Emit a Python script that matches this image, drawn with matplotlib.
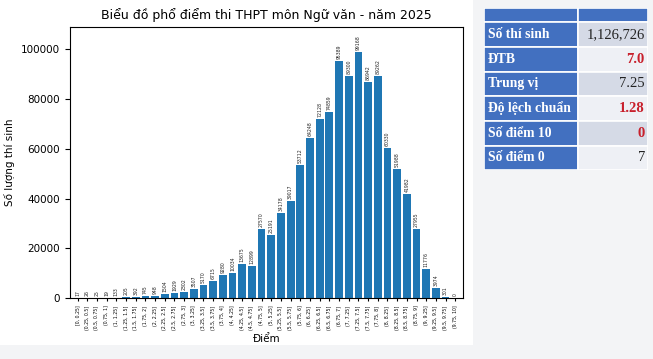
import matplotlib.pyplot as plt
from matplotlib.patches import Rectangle

# === Données ===
bins = ["[0, 0.25]", "(0.25, 0.5]", "(0.5, 0.75]", "(0.75, 1]",
        "(1, 1.25]", "(1.25, 1.5]", "(1.5, 1.75]", "(1.75, 2]",
        "(2, 2.25]", "(2.25, 2.5]", "(2.5, 2.75]", "(2.75, 3]",
        "(3, 3.25]", "(3.25, 3.5]", "(3.5, 3.75]", "(3.75, 4]",
        "(4, 4.25]", "(4.25, 4.5]", "(4.5, 4.75]", "(4.75, 5]",
        "(5, 5.25]", "(5.25, 5.5]", "(5.5, 5.75]", "(5.75, 6]",
        "(6, 6.25]", "(6.25, 6.5]", "(6.5, 6.75]", "(6.75, 7]",
        "(7, 7.25]", "(7.25, 7.5]", "(7.5, 7.75]", "(7.75, 8]",
        "(8, 8.25]", "(8.25, 8.5]", "(8.5, 8.75]", "(8.75, 9]",
        "(9, 9.25]", "(9.25, 9.5]", "(9.5, 9.75]", "(9.75, 10]"]
counts = [17, 26, 25, 19, 133, 205, 392, 745, 948, 1504,
          1929, 2302, 3507, 5170, 6715, 9280, 10034, 13675, 12899, 27570,
          25191, 34178, 39017, 53712, 64248, 72128, 74859, 95389, 89300, 99168,
          86942, 89262, 60330, 51988, 41982, 27955, 11776, 3974, 301, 0]

stat_names = ["Số thí sinh", "ĐTB", "Trung vị", "Độ lệch chuẩn", "Số điểm 10", "Số điểm 0"]
stat_values = ["1,126,726", "7.0", "7.25", "1.28", "0", "7"]
stat_red = [False, True, False, True, True, False]

# === Figure ===
fig = plt.figure(figsize=(6.53, 3.59), dpi=100, facecolor="#f3f4f6")
fig.patches.append(Rectangle((0, 0.04), 0.725, 0.96, transform=fig.transFigure,
                             facecolor="white", edgecolor="none", zorder=-10))

ax = fig.add_axes([0.107, 0.170, 0.602, 0.755])
x = range(len(bins))
bars = ax.bar(x, counts, width=0.8, color="#1f77b4")
for xi, v in zip(x, counts):
    ax.text(xi, v + 800, str(v), rotation=90, ha="center", va="bottom",
            fontsize=3.3, color="#222222")
ax.set_xticks(list(x))
ax.set_xticklabels(bins, rotation=90, fontsize=3.3)
ax.tick_params(axis="y", labelsize=7.5)
ax.tick_params(axis="x", length=2)
ax.set_xlim(-0.8, len(bins) - 0.2)
ax.set_ylim(0, max(counts) * 1.1)
ax.set_title("Biểu đồ phổ điểm thi THPT môn Ngữ văn - năm 2025", fontsize=9)
ax.set_xlabel("Điểm", fontsize=7.5, labelpad=3)
ax.set_ylabel("Số lượng thí sinh", fontsize=7.5)

# === Tableau ===
tab = fig.add_axes([0.741, 0.526, 0.251, 0.451])
tab.set_xlim(0, 164)
tab.set_ylim(162, 0)
tab.axis("off")
blue = "#4270c0"
shade = ["#d5dae6", "#eef0f5"]
col_split = 94
tab.add_patch(Rectangle((0, 0), col_split, 14, facecolor=blue, edgecolor="white", lw=1.2))
tab.add_patch(Rectangle((col_split, 0), 164 - col_split, 14, facecolor=blue, edgecolor="white", lw=1.2))
row_h = (162 - 14) / len(stat_names)
for i, (name, val, red) in enumerate(zip(stat_names, stat_values, stat_red)):
    y0 = 14 + i * row_h
    tab.add_patch(Rectangle((0, y0), col_split, row_h, facecolor=blue, edgecolor="white", lw=1.2))
    tab.add_patch(Rectangle((col_split, y0), 164 - col_split, row_h,
                            facecolor=shade[i % 2], edgecolor="white", lw=1.2))
    tab.text(4, y0 + row_h / 2, name, color="white", fontsize=9.8, fontweight="bold",
             family="Liberation Serif", ha="left", va="center")
    tab.text(161, y0 + row_h / 2, val, color="#c8202c" if red else "#222222",
             fontsize=10.5, fontweight="bold" if red else "normal",
             family="Liberation Serif", ha="right", va="center")

plt.savefig("out.png", dpi=100, facecolor=fig.get_facecolor())
